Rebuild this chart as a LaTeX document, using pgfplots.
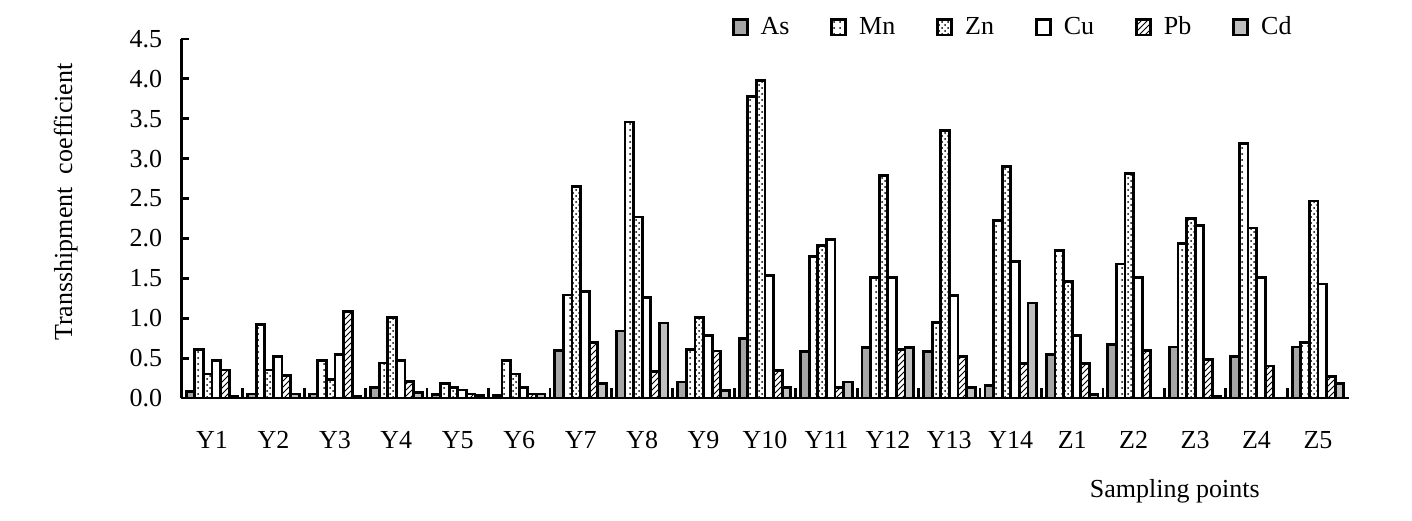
\documentclass[border=0pt]{standalone}
\usepackage{pgfplots}
\pgfplotsset{compat=1.18}
\usepackage{pgfplotstable}
\usepackage{fontspec}
\setmainfont{Liberation Serif}
\usetikzlibrary{patterns}
\pgfplotstableread{
idx As Mn Zn Cu Pb Cd
0 0.08 0.61 0.30 0.47 0.35 0.02
1 0.05 0.92 0.35 0.52 0.28 0.05
2 0.05 0.47 0.23 0.55 1.08 0.02
3 0.13 0.44 1.01 0.47 0.21 0.07
4 0.04 0.18 0.13 0.10 0.05 0.03
5 0.03 0.47 0.30 0.13 0.05 0.05
6 0.60 1.29 2.65 1.34 0.70 0.18
7 0.84 3.46 2.27 1.26 0.33 0.94
8 0.20 0.61 1.01 0.78 0.59 0.09
9 0.75 3.78 3.98 1.54 0.34 0.13
10 0.58 1.77 1.91 1.99 0.13 0.20
11 0.63 1.51 2.79 1.51 0.61 0.63
12 0.58 0.95 3.35 1.28 0.52 0.13
13 0.16 2.23 2.90 1.71 0.43 1.19
14 0.55 1.85 1.46 0.78 0.43 0.04
15 0.67 1.68 2.81 1.51 0.60 0.00
16 0.64 1.94 2.25 2.16 0.48 0.02
17 0.52 3.19 2.13 1.51 0.40 0.00
18 0.64 0.70 2.47 1.43 0.27 0.18
}\datatable
\begin{document}
\begin{tikzpicture}
\useasboundingbox (-90.65pt,-61pt) rectangle (615.35pt,199pt);
\begin{axis}[
  scale only axis,
  width=583.7pt, height=179.5pt,
  at={(0,0)}, anchor=south west,
  ybar, bar width=0.14,
  xmin=-0.5, xmax=18.5, ymin=0, ymax=4.5,
  axis lines*=left,
  axis line style={line width=1.4pt},
  tick align=inside,
  tick style={line width=1.4pt, black},
  major tick length=4pt,
  minor tick length=5pt,
  xtick={0,...,18},
  xticklabels={Y1,Y2,Y3,Y4,Y5,Y6,Y7,Y8,Y9,Y10,Y11,Y12,Y13,Y14,Z1,Z2,Z3,Z4,Z5},
  x tick style={draw=none},
  minor xtick={0.5,1.5,...,17.5},
  minor x tick style={draw=black, line width=1.4pt},
  xticklabel style={anchor=base, yshift=-25pt},
  ytick={0,0.5,...,4.5},
  yticklabel style={xshift=-6pt, /pgf/number format/fixed, /pgf/number format/fixed zerofill, /pgf/number format/precision=1},
  /pgf/number format/assume math mode=true,
  ticklabel style={font=\fontsize{13}{15}\selectfont},
  ylabel={Transshipment\ \ coefficient},
  ylabel style={at={(axis description cs:-0.099,0.546)}, anchor=center, font=\fontsize{13}{15}\selectfont},
  xlabel={Sampling points},
  xlabel style={at={(axis description cs:0.851,-0.259)}, anchor=center, font=\fontsize{13}{15}\selectfont},
  legend columns=6,
  legend style={at={(axis description cs:0.466,1.085)}, anchor=north west, draw=none, fill=none,
    font=\fontsize{13}{15}\selectfont,
    /tikz/every odd column/.append style={column sep=4pt},
    /tikz/every even column/.append style={column sep=18.5pt}},
  legend cell align=left,
  legend image code/.code={\draw[#1, line width=1.4pt] (0pt,-3.8pt) rectangle (7pt,3.8pt);},
  every axis plot/.append style={draw=black, line width=1.4pt},
]
\addplot[fill=gray!70, bar shift=-0.35] table[x=idx,y=As]{\datatable};
\addplot[pattern=dots, bar shift=-0.21] table[x=idx,y=Mn]{\datatable};
\addplot[pattern=crosshatch dots, bar shift=-0.07] table[x=idx,y=Zn]{\datatable};
\addplot[fill=white, bar shift=0.07] table[x=idx,y=Cu]{\datatable};
\addplot[pattern=north east lines, bar shift=0.21] table[x=idx,y=Pb]{\datatable};
\addplot[fill=gray!50, bar shift=0.35] table[x=idx,y=Cd]{\datatable};
\legend{As,Mn,Zn,Cu,Pb,Cd}
\end{axis}
\end{tikzpicture}
\end{document}
